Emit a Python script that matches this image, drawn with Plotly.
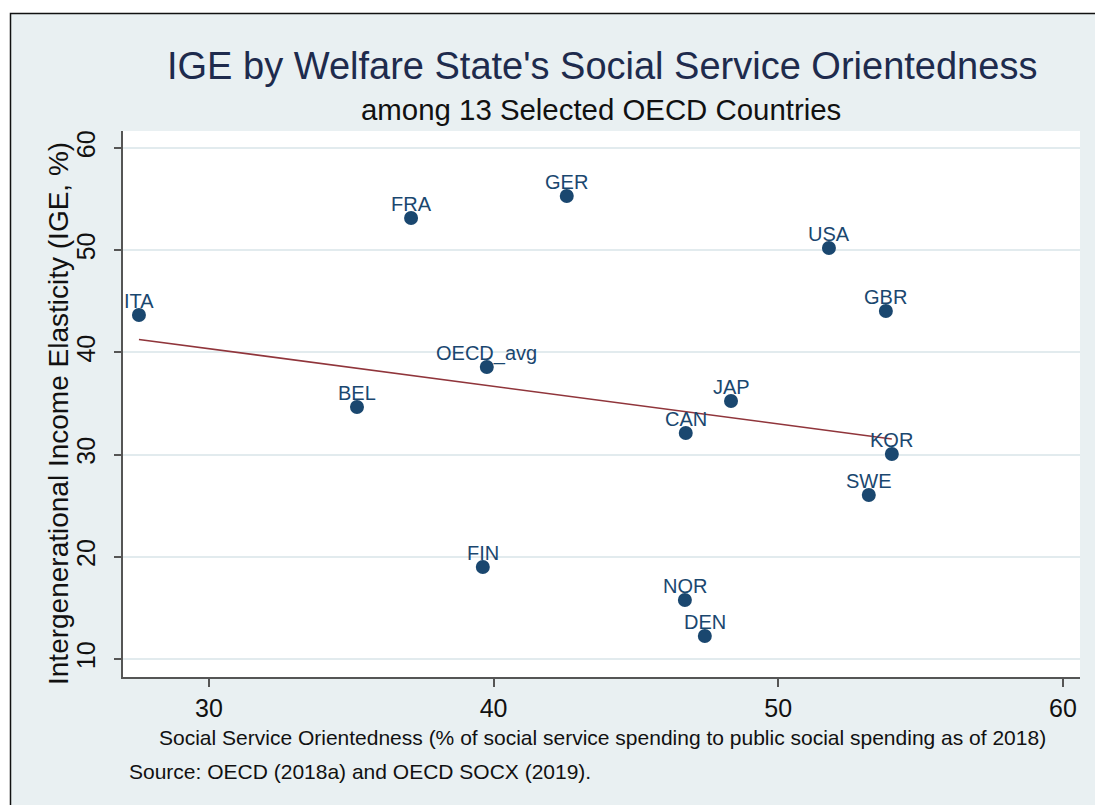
import numpy as np
import plotly.graph_objects as go

# Country data: social service orientedness (%) vs IGE (%)
countries = ["ITA", "FRA", "GER", "USA", "GBR", "OECD_avg", "BEL",
             "JAP", "CAN", "KOR", "SWE", "FIN", "NOR", "DEN"]
orientedness = [27.54, 37.10, 42.57, 51.78, 53.78, 39.76, 35.20,
                48.34, 46.75, 53.99, 53.18, 39.62, 46.72, 47.42]
ige = [43.66, 53.15, 55.30, 50.22, 44.05, 38.57, 34.66,
       35.24, 32.11, 30.06, 26.05, 19.00, 15.77, 12.25]

x_ticks = [30, 40, 50, 60]
y_ticks = [10, 20, 30, 40, 50, 60]

W, H = 1095, 805
L, R, T, B = 123, 1080, 131, 677

NAVY = "#1A476F"
MAROON = "#90353B"
BG = "#E9F0F2"
FONT = "Liberation Sans, Arial, Helvetica, sans-serif"


def px(x):
    return (x - L) / (R - L)


def py(y):
    return (B - y) / (B - T)


# Linear fit over the observed range
slope, intercept = np.polyfit(orientedness, ige, 1)
fit_x = np.array([min(orientedness), max(orientedness)])
fit_y = slope * fit_x + intercept

fig = go.Figure()
fig.add_trace(go.Scatter(
    x=fit_x, y=fit_y, mode="lines",
    line=dict(color=MAROON, width=1.6),
    showlegend=False, hoverinfo="skip",
))
fig.add_trace(go.Scatter(
    x=orientedness, y=ige, mode="markers",
    marker=dict(color=NAVY, size=14, line=dict(width=0)),
    cliponaxis=False, showlegend=False, hoverinfo="skip",
))

fig.update_xaxes(
    range=[26.98, 60.6], tickvals=x_ticks, ticktext=[str(v) for v in x_ticks],
    showgrid=False, zeroline=False,
    showline=True, linecolor="#555555", linewidth=1.5,
    ticks="outside", ticklen=8, tickwidth=1.5, tickcolor="#555555",
    tickfont=dict(family=FONT, size=25, color="#111111"),
)
fig.update_yaxes(
    range=[8.24, 61.66], tickvals=y_ticks, ticktext=[str(v) for v in y_ticks],
    showgrid=True, gridcolor="#E2EBEE", gridwidth=1.5, zeroline=False,
    showline=True, linecolor="#555555", linewidth=1.5,
    ticks="outside", ticklen=7, tickwidth=1.5, tickcolor="#555555",
    tickangle=-90, ticklabelstandoff=9,
    tickfont=dict(family=FONT, size=25, color="#111111"),
)

annotations = [
    dict(text="IGE by Welfare State's Social Service Orientedness",
         x=px(602), y=py(66), font=dict(family=FONT, size=38, color="#1E2B4D")),
    dict(text="among 13 Selected OECD Countries",
         x=px(601), y=py(110), font=dict(family=FONT, size=29.4, color="#111111")),
    dict(text="Social Service Orientedness (% of social service spending to public social spending as of 2018)",
         x=px(602), y=py(737), font=dict(family=FONT, size=21, color="#111111")),
    dict(text="Intergenerational Income Elasticity (IGE, %)", textangle=-90,
         x=px(59), y=py(414), font=dict(family=FONT, size=28, color="#111111")),
]
for a in annotations:
    a.update(xref="paper", yref="paper", xanchor="center", yanchor="middle",
             showarrow=False)
annotations.append(dict(
    text="Source: OECD (2018a) and OECD SOCX (2019).",
    x=px(127), y=py(771), xref="paper", yref="paper",
    xanchor="left", yanchor="middle", showarrow=False,
    font=dict(family=FONT, size=21, color="#111111"),
))

# Country labels sit just above each marker
for name, xv, yv in zip(countries, orientedness, ige):
    annotations.append(dict(
        text=name, x=xv, y=yv, xref="x", yref="y",
        xanchor="center", yanchor="middle", yshift=14, showarrow=False,
        font=dict(family=FONT, size=20, color=NAVY),
    ))

shapes = [
    # white strips outside the framed panel
    dict(type="rect", xref="paper", yref="paper",
         x0=px(-5), x1=px(W + 5), y0=py(-5), y1=py(13),
         fillcolor="white", line=dict(width=0), layer="above"),
    dict(type="rect", xref="paper", yref="paper",
         x0=px(-5), x1=px(10), y0=py(-5), y1=py(H + 5),
         fillcolor="white", line=dict(width=0), layer="above"),
    # panel frame
    dict(type="rect", xref="paper", yref="paper",
         x0=px(10.5), x1=px(W + 10), y0=py(13.5), y1=py(H + 10),
         fillcolor="rgba(0,0,0,0)", line=dict(color="#111111", width=1.5),
         layer="above"),
]

fig.update_layout(
    width=W, height=H,
    margin=dict(l=L, r=W - R, t=T, b=H - B),
    paper_bgcolor=BG, plot_bgcolor="white",
    font=dict(family=FONT),
    annotations=annotations, shapes=shapes,
)

fig.write_html("out.html")
